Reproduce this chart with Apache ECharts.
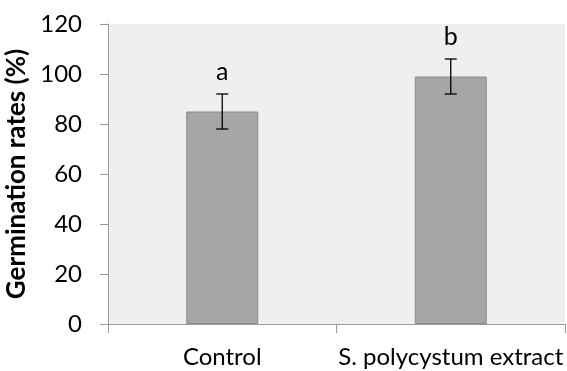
<!DOCTYPE html>
<html>
<head>
<meta charset="utf-8">
<script src="https://cdn.jsdelivr.net/npm/echarts@6/dist/echarts.min.js"></script>
<style>
  html, body { margin: 0; padding: 0; background: #fff; }
  #chart { width: 567px; height: 371px; }
</style>
</head>
<body>
<div id="chart"></div>
<script>
var categories = ['Control', 'S. polycystum extract'];
var rates = [85, 99];
var errors = [7, 7];
var letters = ['a', 'b'];
var letterOffset = 9;

var chart = echarts.init(document.getElementById('chart'));
var fontName = 'Lato, "Liberation Sans", sans-serif';

// error bars + significance letters, drawn through the axes
function renderError(params, api) {
  var i = api.value(0);
  var v = api.value(1);
  var e = api.value(2);
  var top = api.coord([i, v + e]);
  var bottom = api.coord([i, v - e]);
  var label = api.coord([i, v + e + letterOffset]);
  var cap = 6;
  var style = { stroke: '#000', lineWidth: 1.3 };
  return {
    type: 'group',
    children: [
      { type: 'line', shape: { x1: top[0], y1: top[1], x2: bottom[0], y2: bottom[1] }, style: style },
      { type: 'line', shape: { x1: top[0] - cap, y1: top[1], x2: top[0] + cap, y2: top[1] }, style: style },
      { type: 'line', shape: { x1: bottom[0] - cap, y1: bottom[1], x2: bottom[0] + cap, y2: bottom[1] }, style: style },
      { type: 'text', x: label[0], y: label[1],
        style: { text: letters[i], font: '25px ' + fontName, fill: '#000', align: 'center', verticalAlign: 'middle' } }
    ]
  };
}

var options = {
  animation: false,
  grid: {
    left: 108, right: 2, top: 24, bottom: 47,
    containLabel: false,
    outerBoundsMode: 'none',
    show: true, backgroundColor: '#efefef', borderWidth: 0
  },
  xAxis: {
    type: 'category',
    data: categories,
    axisLine: { lineStyle: { color: '#9a9a9a', width: 1 } },
    axisTick: { show: true, alignWithLabel: false, length: 9, lineStyle: { color: '#9a9a9a' } },
    axisLabel: { color: '#000', fontSize: 24, fontFamily: fontName, margin: 21, interval: 0 }
  },
  yAxis: {
    type: 'value',
    min: 0, max: 120, interval: 20,
    name: 'Germination rates (%)',
    nameLocation: 'middle',
    nameGap: 70,
    nameTextStyle: { color: '#000', fontSize: 26, fontWeight: 'bold', fontFamily: fontName },
    axisLine: { show: true, lineStyle: { color: '#9a9a9a', width: 1 } },
    axisTick: { show: true, length: 8, lineStyle: { color: '#9a9a9a' } },
    axisLabel: { color: '#000', fontSize: 24, fontFamily: fontName, margin: 26 },
    splitLine: { show: false }
  },
  series: [
    {
      type: 'bar',
      data: rates,
      barWidth: 72,
      itemStyle: { color: '#a6a6a6', borderColor: '#8a8a8a', borderWidth: 1 }
    },
    {
      type: 'custom',
      renderItem: renderError,
      encode: { x: 0, y: 1 },
      data: rates.map(function (v, i) { return [i, v, errors[i]]; }),
      z: 5
    }
  ]
};

chart.setOption(options);
</script>
</body>
</html>
